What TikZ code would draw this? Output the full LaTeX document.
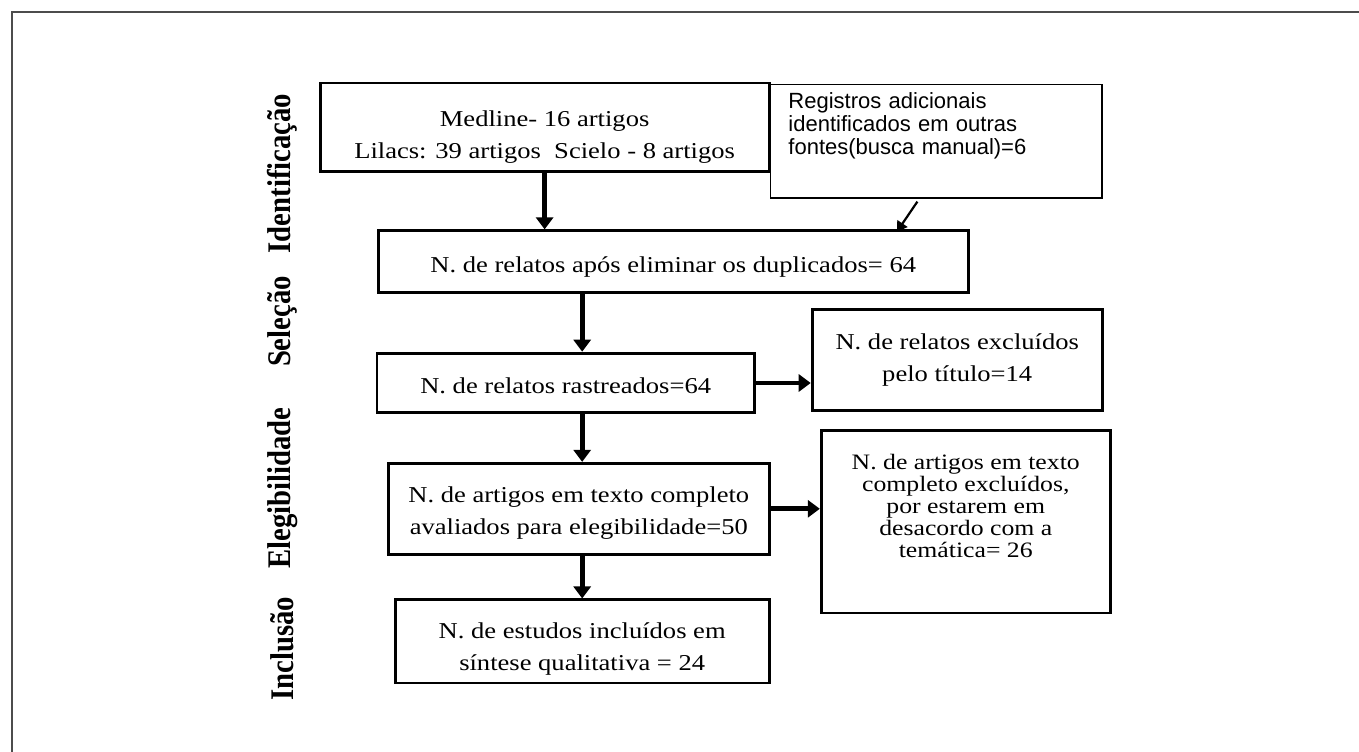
\documentclass[tikz,border=0pt]{standalone}
\usepackage{fontspec}
\setmainfont{Liberation Serif}[FakeStretch=1.17]
\newfontfamily\phasefont{Liberation Serif}[FakeStretch=0.87]
\newfontfamily\extrafont{Liberation Sans}
\usetikzlibrary{arrows.meta}
\tikzset{
	stage/.style={draw, rectangle, line width=1.4pt, align=center, inner sep=2pt, font=\fontsize{11.35}{16}\selectfont},
	extra/.style={draw, rectangle, line width=0.7pt, align=left, inner xsep=0.32cm, text width=5.19cm, minimum height=2cm, font=\extrafont\fontsize{11}{11.5}\selectfont},
	phase/.style={font=\phasefont\bfseries\fontsize{16.5}{18}\selectfont},
}

\begin{document}
\begin{tikzpicture}
		\useasboundingbox (-9.57,-10.97) rectangle (14.31,2.24);
		\draw[line width=1pt, black!70] (-9.36,-10.97) -- (-9.36,2.03) -- (14.31,2.03);
		
		\node (med) [stage, minimum width=7.89cm, minimum height=1.56cm] {\rule{0pt}{17pt}Medline- 16 artigos\\Lilacs: 39 artigos~ Scielo - 8 artigos};
		\node (reg) [extra, right of=med, xshift=5.88cm, yshift=-0.24cm] {Registros adicionais\\identificados em outras\\fontes(busca manual)=6\rule[-18pt]{0pt}{0pt}};
		\node (dup) [stage, below of=med, xshift=2.26cm, yshift=-1.36cm, minimum width=10.37cm, minimum height=1.09cm] {\rule{0pt}{13.5pt}N. de relatos após eliminar os duplicados= 64};
		\node (ras) [stage, below of=dup, xshift=-1.89cm, yshift=-1.13cm, minimum width=6.63cm, minimum height=1.05cm] {\rule{0pt}{11pt}N. de relatos rastreados=64};
		\node (tit) [stage, right of=ras, xshift=5.88cm, yshift=0.40cm, minimum width=5.10cm, minimum height=1.77cm] {N. de relatos excluídos\\pelo título=14};
		\node (ele) [stage, below of=ras, xshift=0.23cm, yshift=-1.21cm, minimum width=6.70cm, minimum height=1.60cm] {\rule{0pt}{12pt}N. de artigos em texto completo\\avaliados para elegibilidade=50};
		\node (exc) [stage, right of=ele, xshift=5.80cm, yshift=-0.23cm, minimum width=5.08cm, minimum height=3.20cm, font=\fontsize{11}{11}\selectfont] {N. de artigos em texto\\completo excluídos,\\por estarem em\\desacordo com a\\temática= 26\rule[-16pt]{0pt}{0pt}};
		\node (inc) [stage, below of=ele, xshift=0.06cm, yshift=-1.33cm, minimum width=6.57cm, minimum height=1.46cm] {\rule{0pt}{16pt}N. de estudos incluídos em\\síntese qualitativa = 24};
		
		%\node (lid) [phase, rotate=90, left of=med] {Identificação};
		\node (lid) [phase, left of=med, xshift=-3.61cm, yshift=-0.81cm, rotate=90] {Identificação};
		\node (lsel) [phase, below of=lid, yshift=-1.60cm, rotate=90] {Seleção};
		\node (lele) [phase, below of=lsel, yshift=-1.93cm, rotate=90] {Elegibilidade};
		\node (linc) [phase, below of=lele, yshift=-1.82cm, rotate=90] {Inclusão};
		
		\begin{scope}[line width=2.4pt, black, ->, >={Triangle[length=6pt, width=8.5pt]}]
			\draw (med) -- (med |- dup.north);
			\draw (dup.south -| inc) -- (ras.north -| inc);
			\draw (ras.east) -- (ras.east -| tit.west);
			\draw (ras.south -| inc) -- (ele.north -| inc);
			\draw (ele.east) -- (ele.east -| exc.west);
			\draw (ele.south -| inc) -- (inc.north);
		\end{scope}
		\draw[line width=1.1pt, -{Triangle[length=5pt, width=6pt]}] ([xshift=-0.33cm, yshift=-0.05cm]reg.south) -- ([xshift=-0.69cm, yshift=-0.58cm]reg.south);
\end{tikzpicture}
\end{document}
